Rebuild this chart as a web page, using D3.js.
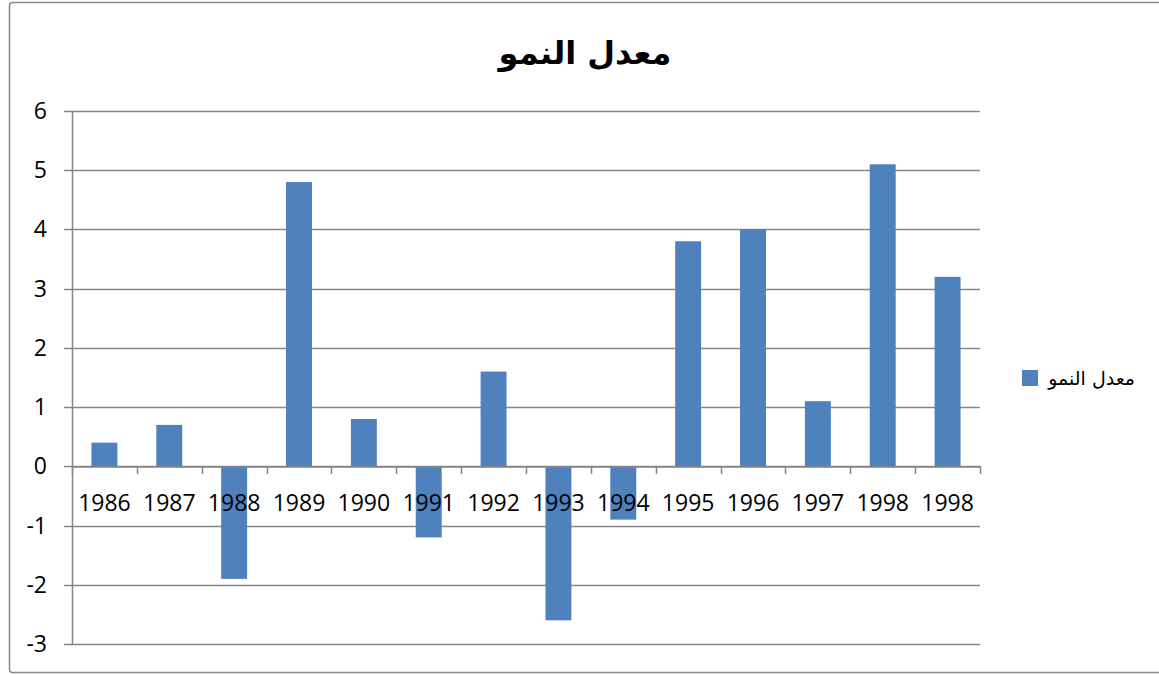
<!DOCTYPE html>
<html><head><meta charset="utf-8">
<script src="https://cdn.jsdelivr.net/npm/d3@7"></script>
<style>
body{margin:0;background:#fff;}
svg{display:block;}
</style></head>
<body>
<svg id="chart" width="1159" height="675"></svg>
<script>
const title = "معدل النمو";
const seriesName = "معدل النمو";
const categories = ["1986","1987","1988","1989","1990","1991","1992","1993","1994","1995","1996","1997","1998","1998"];
const values = [0.4, 0.7, -1.9, 4.8, 0.8, -1.2, 1.6, -2.6, -0.9, 3.8, 4.0, 1.1, 5.1, 3.2];
const yTicks = [-3,-2,-1,0,1,2,3,4,5,6];

const svg = d3.select("#chart");
const W = 1159, H = 675;
const plot = {left: 72, right: 980, top: 111, bottom: 644};
const barColor = "#4f81bd";
const gridColor = "#868686";
const numFont = "'Open Sans', 'Liberation Sans', sans-serif";

svg.append("rect").attr("x",9.5).attr("y",2.5).attr("width",1160).attr("height",670)
  .attr("fill","#fff").attr("stroke","#898989").attr("stroke-width",1.5).attr("rx",3);

const idx = categories.map((d,i)=>i);
const x = d3.scaleBand().domain(idx).range([plot.left, plot.right]).paddingInner(0.6).paddingOuter(0.3);
const y = d3.scaleLinear().domain([-3,6]).range([plot.bottom, plot.top]);

// gridlines
svg.append("g").selectAll("line").data(yTicks).join("line")
  .attr("x1",plot.left-8).attr("x2",plot.right)
  .attr("y1",d=>Math.round(y(d))+0.5).attr("y2",d=>Math.round(y(d))+0.5)
  .attr("stroke",gridColor).attr("stroke-width",1.5);

// y axis line
svg.append("line").attr("x1",plot.left+0.5).attr("x2",plot.left+0.5)
  .attr("y1",plot.top).attr("y2",plot.bottom+1).attr("stroke",gridColor).attr("stroke-width",1.5);

// y labels
svg.append("g").selectAll("text").data(yTicks).join("text")
  .attr("x",47).attr("y",d=>y(d)).attr("dy","0.35em")
  .attr("text-anchor","end").attr("font-family",numFont).attr("font-size",23).attr("fill","#000")
  .text(d=>d);

// bars
svg.append("g").selectAll("rect").data(values).join("rect")
  .attr("x",(d,i)=>x(i)).attr("width",x.bandwidth())
  .attr("y",d=>y(Math.max(0,d))).attr("height",d=>Math.abs(y(d)-y(0)))
  .attr("fill",barColor);

// x axis at zero
const xAxis = d3.axisBottom(x).tickSize(0).tickFormat(i=>categories[i]);
const gx = svg.append("g").attr("transform",`translate(0,${Math.round(y(0))+0.5})`).call(xAxis);
gx.select(".domain").attr("stroke",gridColor).attr("stroke-width",1.5);
gx.selectAll("text").attr("font-family",numFont).attr("font-size",23).attr("fill","#000").attr("dy","41px");
// category boundary tick marks
const bounds = d3.range(categories.length+1).map(k=>plot.left + k*x.step());
svg.append("g").selectAll("line").data(bounds).join("line")
  .attr("x1",d=>Math.round(d)+0.5).attr("x2",d=>Math.round(d)+0.5)
  .attr("y1",Math.round(y(0))).attr("y2",Math.round(y(0))+8)
  .attr("stroke",gridColor).attr("stroke-width",1.5);

// title
svg.append("text").attr("x",585).attr("y",64).attr("text-anchor","middle")
  .attr("font-family","'DejaVu Sans', sans-serif").attr("font-weight","bold").attr("font-size",32)
  .attr("fill","#000").attr("direction","rtl").text(title);

// legend
svg.append("rect").attr("x",1022).attr("y",370).attr("width",16).attr("height",16).attr("fill",barColor);
svg.append("text").attr("x",1135).attr("y",378).attr("dy","0.35em").attr("text-anchor","start")
  .attr("direction","rtl").attr("font-family","'DejaVu Sans', sans-serif").attr("font-size",19)
  .attr("fill","#000").text(seriesName);
</script>
</body></html>
